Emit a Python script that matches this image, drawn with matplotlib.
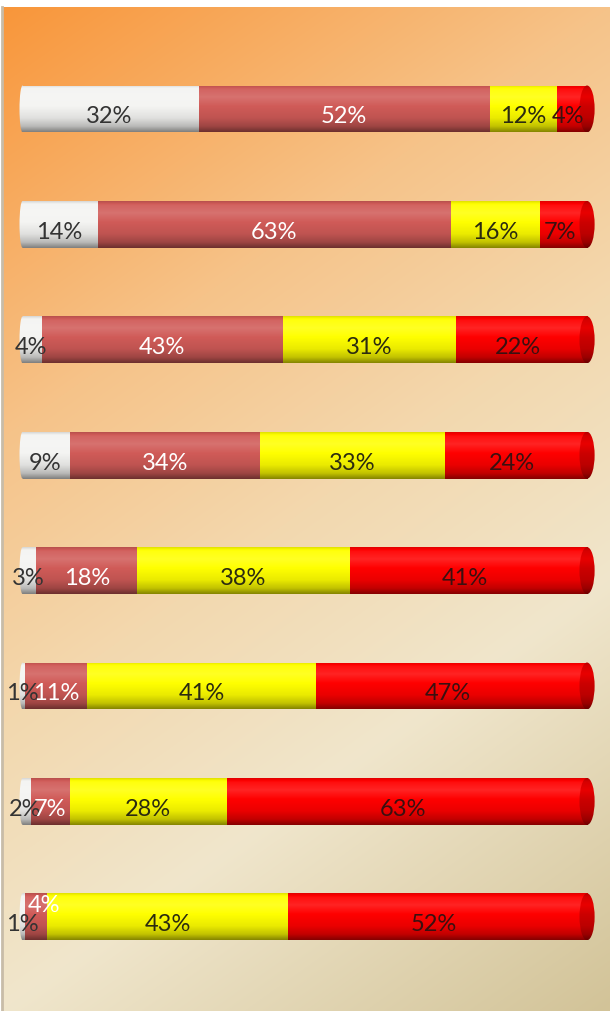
import numpy as np
import matplotlib
matplotlib.use("Agg")
import matplotlib.pyplot as plt
from matplotlib.patches import Ellipse, Rectangle
from matplotlib.colors import to_rgb

# ---- data (top bar first) ----
seg_white = [32, 14, 4, 9, 3, 1, 2, 1]
seg_brown = [52, 63, 43, 34, 18, 11, 7, 4]
seg_yellow = [12, 16, 31, 33, 38, 41, 28, 43]
seg_red = [4, 7, 22, 24, 41, 47, 63, 52]
series = [seg_white, seg_brown, seg_yellow, seg_red]
colors = ['#f4f4f2', '#d05b58', '#ffff00', '#ff0000']
label_colors = ['#333333', '#ffffff', '#2b2b10', '#3a1010']

plt.rcParams['font.family'] = ['Lato', 'DejaVu Sans']

W, H = 610, 1012
fig = plt.figure(figsize=(W / 100, H / 100), dpi=100)

# ---- background gradient ----
bg = fig.add_axes([0, 0, 1, 1])
bg.set_xlim(0, W)
bg.set_ylim(H, 0)
bg.axis('off')
gx = np.linspace(0, 1, 300)
gy = np.linspace(0, 1, 500)
XX, YY = np.meshgrid(gx, gy)
T = np.clip(0.3 * XX + 0.7 * YY, 0, 1)
stops = [0.0, 0.3, 0.5, 0.7, 1.0]
scol = [to_rgb(c) for c in ['#f9963a', '#f6c389', '#f3d8ae', '#f0e6cc', '#d2c398']]
img = np.zeros(T.shape + (3,))
for k in range(3):
    img[..., k] = np.interp(T, stops, [c[k] for c in scol])
bg.imshow(img, extent=[2, W, H, 8], aspect='auto', interpolation='bilinear', zorder=0)
bg.plot([2, 2], [8, H], color='#c8bca8', lw=2, zorder=1)

# ---- main axes ----
ax = fig.add_axes([0, 0, 1, 1])
ax.patch.set_alpha(0)
ax.axis('off')
x0px, ppu = 19.5, 5.6
y0px, step = 110.0, 115.4
xlim = (-x0px / ppu, (W - x0px) / ppu)
ylim = ((H - y0px) / step, -y0px / step)

prof_t = [0.0, 0.08, 0.25, 0.45, 0.7, 0.88, 1.0]
prof_f = [0.88, 1.05, 1.14, 1.0, 0.92, 0.76, 0.52]
rows = np.linspace(0, 1, 120)
fac = np.interp(rows, prof_t, prof_f)


def grad_img(col, scale=1.0):
    c = np.array(to_rgb(col))
    out = np.zeros((len(fac), 1, 3))
    for i, f in enumerate(fac * scale):
        if f > 1:
            out[i, 0] = c + (1 - c) * (f - 1)
        else:
            out[i, 0] = c * f
    return np.clip(out, 0, 1)


def fill_patch(patch, col, x_a, x_b, y_top, h, z, scale=1.0):
    patch.set_facecolor('none')
    patch.set_edgecolor('none')
    ax.add_patch(patch)
    im = ax.imshow(grad_img(col, scale), extent=[x_a, x_b, y_top + h, y_top],
                   aspect='auto', interpolation='bilinear', zorder=z)
    im.set_clip_path(patch)


n = len(seg_white)
ypos = np.arange(n)
bh = 0.407
left = np.zeros(n)
bars = []
for vals, col in zip(series, colors):
    b = ax.barh(ypos, vals, left=left, height=bh, color='none', edgecolor='none')
    bars.append(b)
    left = left + np.array(vals)

lcap = 0.55  # half-width of the rounded left end (data units)
for si, (b, col) in enumerate(zip(bars, colors)):
    for rect in b.patches:
        x, y, w, h = rect.get_x(), rect.get_y(), rect.get_width(), rect.get_height()
        if si == 0:
            body = Rectangle((x + lcap, y), w - lcap, h)
            fill_patch(body, col, x, x + w, y, h, 3)
            le = Ellipse((x + lcap, y + h / 2), 2 * lcap, h)
            fill_patch(le, col, x, x + 2 * lcap, y, h, 3)
        else:
            fill_patch(rect, col, x, x + w, y, h, 3)

# right caps
cap_w = 2.7
for i in range(n):
    rl = bars[-1].patches[i]
    y, h = rl.get_y(), rl.get_height()
    yc = y + h / 2
    xe = rl.get_x() + rl.get_width()
    ext = Rectangle((xe - 0.1, y), cap_w / 2 + 0.1, h)
    fill_patch(ext, colors[-1], xe - 0.1, xe + cap_w / 2, y, h, 3)
    el = Ellipse((xe + cap_w / 2, yc), cap_w, h)
    fill_patch(el, colors[-1], xe, xe + cap_w, y, h, 4, scale=0.8)

# labels
for si, (b, vals) in enumerate(zip(bars, series)):
    for i, rect in enumerate(b.patches):
        xc = rect.get_x() + rect.get_width() / 2
        yc = rect.get_y() + rect.get_height() / 2 + 0.06
        dx, dy = 0, 0
        if si == 1 and i == n - 1:
            dx, dy = 1.4, -0.165
        ax.text(xc + dx, yc + dy, f'{vals[i]}%', ha='center', va='center',
                fontsize=17, color=label_colors[si], zorder=6)

ax.set_xlim(*xlim)
ax.set_ylim(*ylim)
fig.savefig('out.png', dpi=100)
